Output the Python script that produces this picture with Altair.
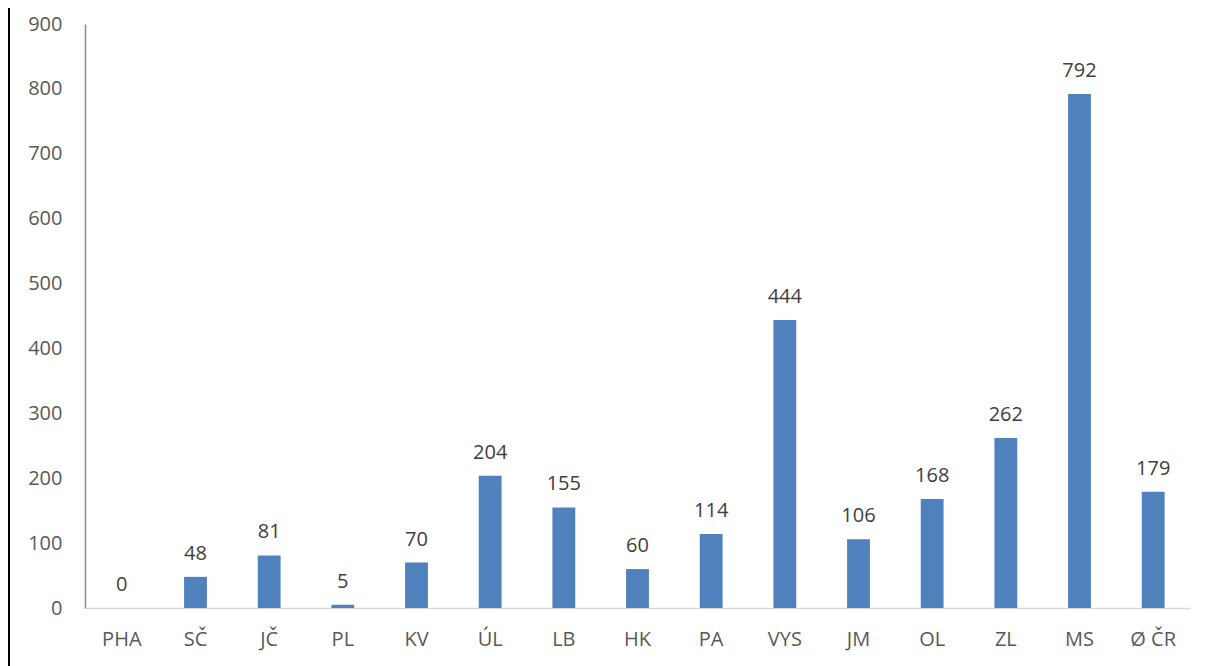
import altair as alt
import pandas as pd

categories = ["PHA", "SČ", "JČ", "PL", "KV", "ÚL", "LB", "HK", "PA", "VYS", "JM", "OL", "ZL", "MS", "Ø ČR"]
values = [0, 48, 81, 5, 70, 204, 155, 60, 114, 444, 106, 168, 262, 792, 179]

df = pd.DataFrame({"kraj": categories, "hodnota": values})

W, H = 1105, 584
FONT = "Open Sans"

x = alt.X("kraj:N", sort=categories, title=None,
          scale=alt.Scale(paddingInner=0.69, paddingOuter=0.345),
          axis=alt.Axis(labelAngle=0, ticks=False, domainColor="#D9D9D9", domainWidth=1.5,
                        labelColor="#595959", labelFontSize=20, labelFont=FONT, labelPadding=21, grid=False))
y = alt.Y("hodnota:Q", title=None,
          scale=alt.Scale(domain=[0, 900], nice=False),
          axis=alt.Axis(values=list(range(0, 901, 100)), ticks=False, grid=False, domainColor="#8C8C8C",
                        domainWidth=1.5, labelColor="#595959", labelFontSize=20, labelFont=FONT, labelPadding=23))

base = alt.Chart(df)
bars = base.mark_bar(color="#4F81BD").encode(x=x, y=y)
labels = base.mark_text(dy=-17, baseline="alphabetic", fontSize=20, font=FONT, color="#404040").encode(
    x=alt.X("kraj:N", sort=categories), y="hodnota:Q", text="hodnota:Q")
frame = base.mark_rule(color="#000000", strokeWidth=3).encode(
    x=alt.value(-76.5), y=alt.value(-20), y2=alt.value(650))

chart = alt.layer(bars, labels, frame).properties(
    width=W, height=H,
    autosize=alt.AutoSizeParams(type="none"),
    padding={"left": 77, "top": 16, "right": 12, "bottom": 58},
).configure(background="#FFFFFF").configure_view(stroke=None, strokeWidth=0)

chart.save("out.html", embed_options={"renderer": "svg", "actions": False})
